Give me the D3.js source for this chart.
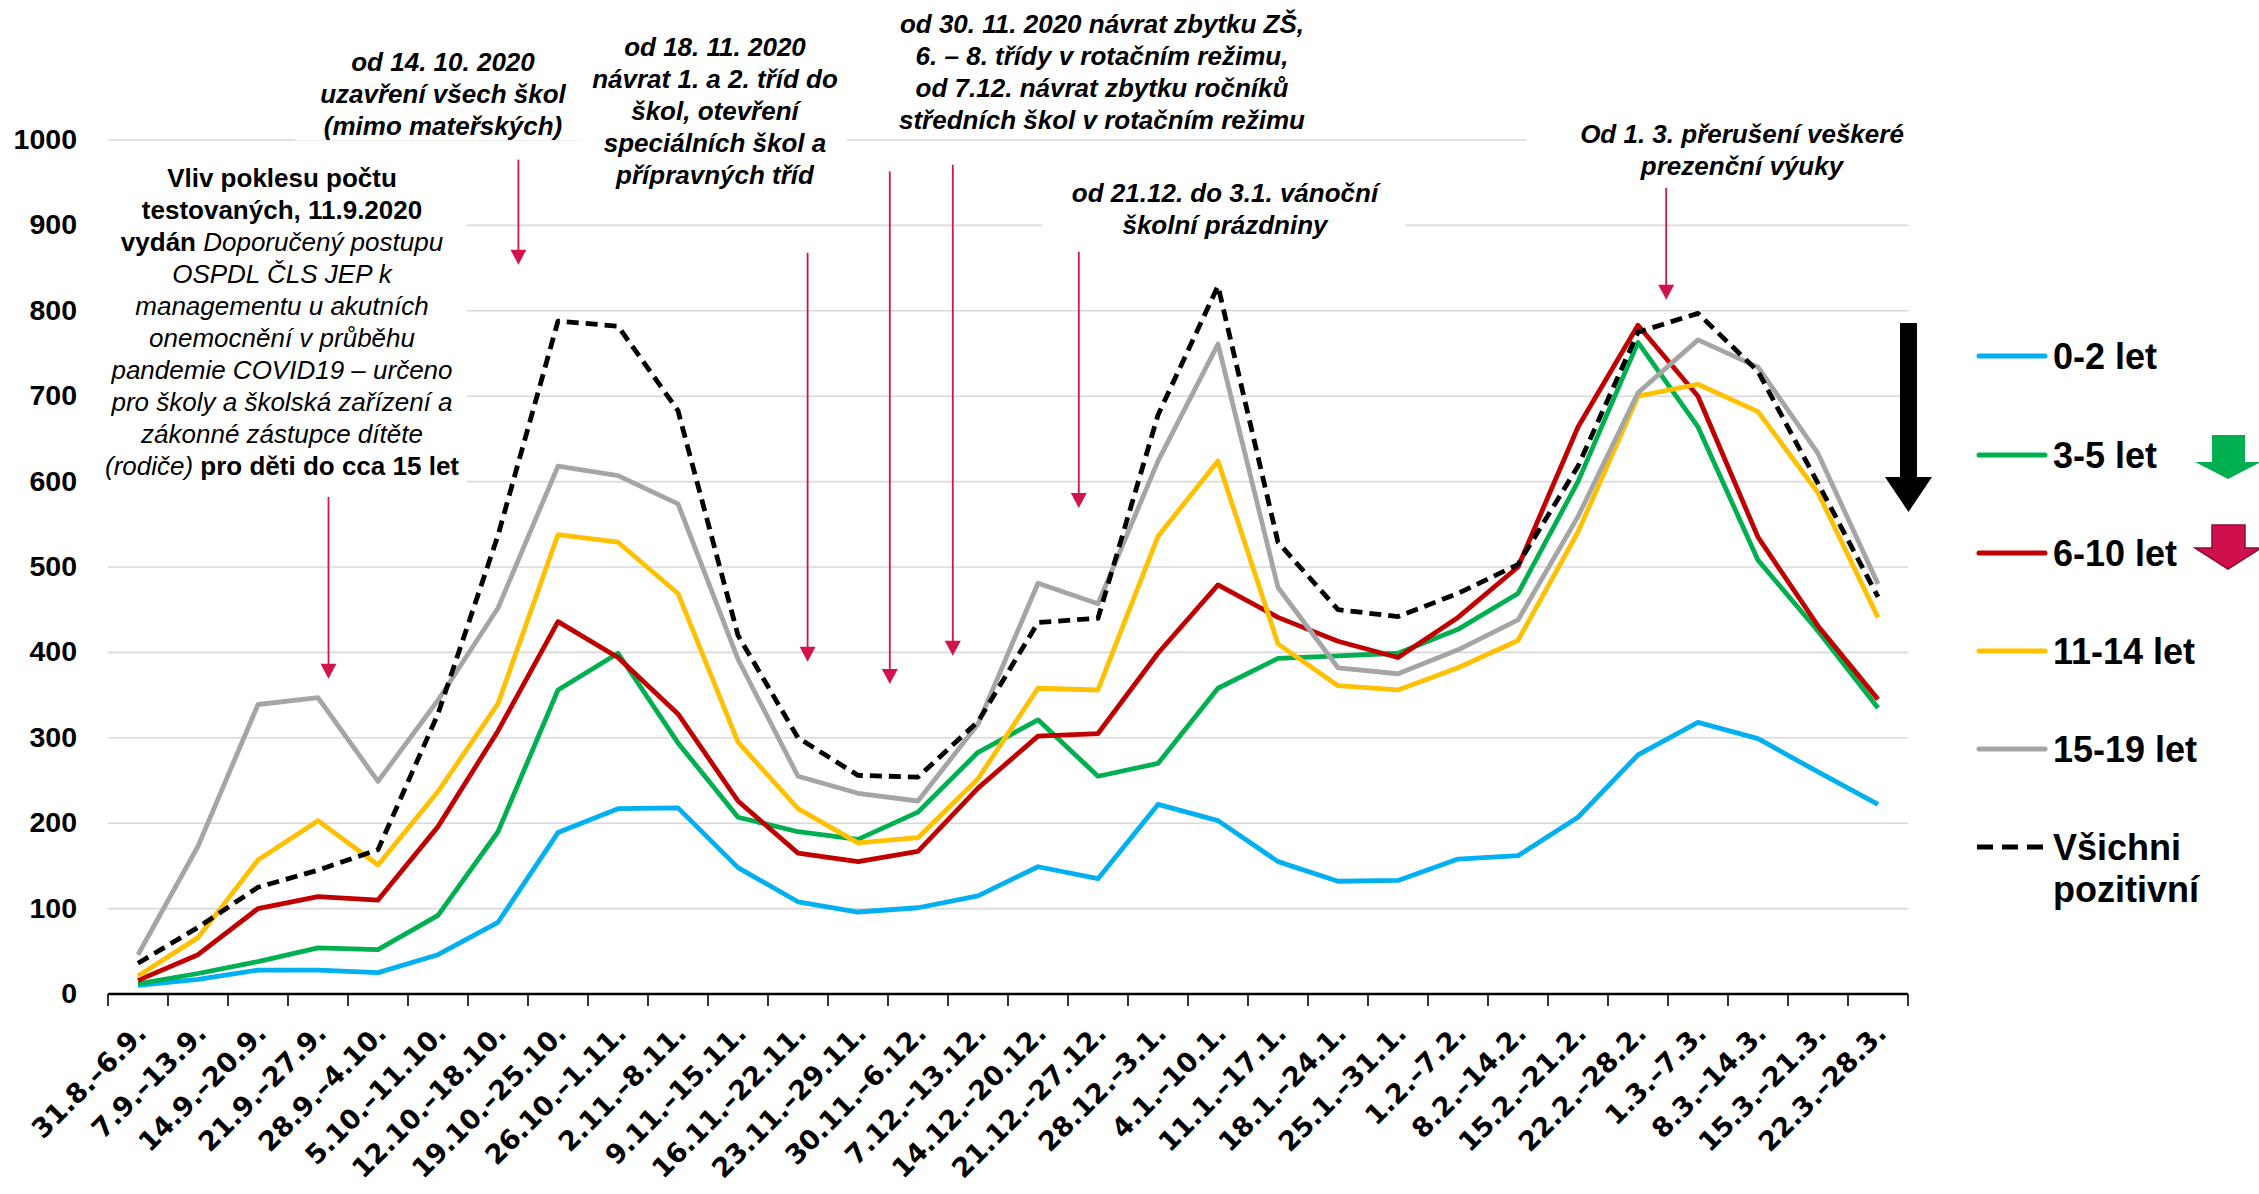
<!DOCTYPE html>
<html><head><meta charset="utf-8">
<script src="https://cdn.jsdelivr.net/npm/d3@7"></script>
<style>body{margin:0;background:#fff;} svg{display:block;}</style>
</head><body>
<svg id="c" width="2259" height="1194"></svg>
<script>
const categories = ["31.8.–6.9.","7.9.–13.9.","14.9.–20.9.","21.9.–27.9.","28.9.–4.10.","5.10.–11.10.","12.10.–18.10.","19.10.–25.10.","26.10.–1.11.","2.11.–8.11.","9.11.–15.11.","16.11.–22.11.","23.11.–29.11.","30.11.–6.12.","7.12.–13.12.","14.12.–20.12.","21.12.–27.12.","28.12.–3.1.","4.1.–10.1.","11.1.–17.1.","18.1.–24.1.","25.1.–31.1.","1.2.–7.2.","8.2.–14.2.","15.2.–21.2.","22.2.–28.2.","1.3.–7.3.","8.3.–14.3.","15.3.–21.3.","22.3.–28.3."];
const seriesNames = ["0-2 let","3-5 let","6-10 let","11-14 let","15-19 let","Všichni pozitivní"];
const age0_2   = [10,17,28,28,25,46,84,189,217,218,148,108,96,101,115,149,135,222,203,155,132,133,158,162,207,280,318,299,260,222];
const age3_5   = [12,24,38,54,52,92,190,356,399,294,207,190,181,213,283,321,255,270,358,393,396,399,427,469,600,763,664,508,425,335];
const age6_10  = [16,46,100,114,110,196,308,436,394,328,226,165,155,167,241,302,305,399,479,441,413,394,441,500,664,783,700,535,431,345];
const age11_14 = [21,66,157,203,151,237,340,538,529,469,295,217,177,183,252,358,356,536,624,410,361,356,382,414,541,700,714,682,587,441];
const age15_19 = [46,173,339,347,249,344,452,618,607,574,392,255,235,226,316,481,457,624,761,476,382,375,403,438,559,704,766,734,633,480];
const allPositive = [36,78,125,145,169,328,537,788,782,683,420,300,256,254,319,435,440,678,829,529,450,442,469,503,618,775,797,729,598,465];
const yTicks = [0,100,200,300,400,500,600,700,800,900,1000];

const colors = ["#00B0F0","#00B050","#C00000","#FFC000","#A5A5A5","#000000"];
const seriesData = [age0_2, age3_5, age6_10, age11_14, age15_19, allPositive];

const svg = d3.select("#c");
const x = d3.scaleBand().domain(categories).range([108,1908]);
const y = d3.scaleLinear().domain([0,1000]).range([994,140]);
const cx = c => x(c) + x.bandwidth()/2;
const xi = i => x(categories[0]) + x.bandwidth()*(i+0.5);
const FONT = "'Liberation Sans', Arial, sans-serif";

// gridlines
svg.append("g").selectAll("line").data(yTicks.filter(t=>t>0)).join("line")
  .attr("x1",108).attr("x2",1908).attr("y1",d=>y(d)).attr("y2",d=>y(d))
  .attr("stroke","#d9d9d9").attr("stroke-width",1.6);

// white annotation boxes
const boxes = [
  [88,467,148,490],[295,582,35,140.5],[582,847,20,200],[850,1350,0,135],[1042,1405,170,245],[1527,1935,105,190]
];
svg.append("g").selectAll("rect").data(boxes).join("rect")
  .attr("x",d=>d[0]).attr("width",d=>d[1]-d[0]).attr("y",d=>d[2]).attr("height",d=>d[3]-d[2])
  .attr("fill","#fff");

// y labels
svg.append("g").selectAll("text").data(yTicks).join("text")
  .attr("x",77).attr("y",d=>y(d)+9).attr("text-anchor","end")
  .attr("font-family",FONT).attr("font-weight","bold").attr("font-size",28.5).attr("fill","#000")
  .text(d=>d);

// x axis
svg.append("line").attr("x1",108).attr("x2",1908).attr("y1",y(0)).attr("y2",y(0))
  .attr("stroke","#000").attr("stroke-width",2.5);
const tickXs = categories.map(c=>x(c)).concat([x(categories[categories.length-1])+x.bandwidth()]);
svg.append("g").selectAll("line").data(tickXs).join("line")
  .attr("x1",d=>d).attr("x2",d=>d).attr("y1",y(0)).attr("y2",y(0)+12)
  .attr("stroke","#000").attr("stroke-width",1.6);
svg.append("g").selectAll("text").data(categories).join("text")
  .attr("transform",d=>`translate(${cx(d)+10},${y(0)+41}) rotate(-45)`)
  .attr("text-anchor","end")
  .attr("font-family","'DejaVu Sans', Verdana, sans-serif").attr("font-weight","bold").attr("font-size",27)
  .text(d=>d);

// series
const line = d3.line().x((d,i)=>cx(categories[i])).y(d=>y(d));
seriesData.forEach((s,k)=>{
  const p = svg.append("path").attr("d",line(s)).attr("fill","none")
    .attr("stroke",colors[k]).attr("stroke-width",4.8).attr("stroke-linejoin","round");
  if(k===5) p.attr("stroke-dasharray","12,7");
});

// red annotation arrows: [index, fromValue, tipValue]
const arrows = [[3.175,582,369],[6.34,977,854],[11.16,868,389],[12.53,963,363],[13.58,971,396],[15.68,869,569],[25.47,944,813]];
const ag = svg.append("g");
arrows.forEach(a=>{
  const ax = xi(a[0]), y1 = y(a[1]), yt = y(a[2]);
  ag.append("line").attr("x1",ax).attr("x2",ax).attr("y1",y1).attr("y2",yt-12)
    .attr("stroke","#d2144c").attr("stroke-width",1.8);
  ag.append("path").attr("d",`M${ax-8},${yt-15}L${ax+8},${yt-15}L${ax},${yt}Z`).attr("fill","#d2144c");
});

// annotation texts
function ann(cxp, baseline, lines){
  const t = svg.append("text").attr("text-anchor","middle").attr("font-family",FONT).attr("font-size",26).attr("fill","#000");
  lines.forEach((ln,i)=>{
    const parts = Array.isArray(ln) ? ln : [[ln,"bi"]];
    parts.forEach((p,j)=>{
      const ts = t.append("tspan").text(p[0]);
      if(j===0) ts.attr("x",cxp).attr("y",baseline+i*32);
      ts.attr("font-weight",p[1].includes("b")?"bold":"normal")
        .attr("font-style",p[1].includes("i")?"italic":"normal");
    });
  });
}
ann(443,71,["od 14. 10. 2020","uzavření všech škol","(mimo mateřských)"]);
ann(715,56,["od 18. 11. 2020","návrat 1. a 2. tříd do","škol, otevření","speciálních škol a","přípravných tříd"]);
ann(1102,33,["od 30. 11. 2020 návrat zbytku ZŠ,","6. – 8. třídy v rotačním režimu,","od 7.12. návrat zbytku ročníků","středních škol v rotačním režimu"]);
ann(1225,202,["od 21.12. do 3.1. vánoční","školní prázdniny"]);
ann(1742,143,["Od 1. 3. přerušení veškeré","prezenční výuky"]);
ann(282,187,[
  [["Vliv poklesu počtu","b"]],
  [["testovaných, 11.9.2020","b"]],
  [["vydán ","b"],["Doporučený postupu","i"]],
  [["OSPDL ČLS JEP k","i"]],
  [["managementu u akutních","i"]],
  [["onemocnění v průběhu","i"]],
  [["pandemie COVID19 – určeno","i"]],
  [["pro školy a školská zařízení a","i"]],
  [["zákonné zástupce dítěte","i"]],
  [["(rodiče)","i"],[" pro děti do cca 15 let","b"]]
]);

// big black arrow
svg.append("path").attr("d","M1900,323L1917,323L1917,477L1932,477L1908.5,512L1885,477L1900,477Z").attr("fill","#000");

// legend
const legY = [356,455,553,651,749,847];
const lg = svg.append("g");
seriesNames.forEach((n,k)=>{
  const l = lg.append("line").attr("x1",1979).attr("x2",2045).attr("y1",legY[k]).attr("y2",legY[k])
    .attr("stroke",colors[k]).attr("stroke-width",5);
  if(k===5) l.attr("stroke-dasharray","16,9").attr("x1",1977).attr("x2",2043);
  else l.attr("stroke-linecap","round");
  const t = lg.append("text").attr("x",2053).attr("y",legY[k]+12.5)
    .attr("font-family",FONT).attr("font-weight","bold").attr("font-size",36).attr("fill","#000");
  if(k===5){
    t.append("tspan").attr("x",2053).text("Všichni");
    t.append("tspan").attr("x",2053).attr("dy",42).text("pozitivní");
  } else t.text(n);
});
// green and red trend arrows
lg.append("path").attr("d","M2212,435L2245,435L2245,462L2261,462L2228,479L2195,462L2212,462Z").attr("fill","#00B050");
lg.append("path").attr("d","M2212,525L2245,525L2245,548L2261,548L2228,569L2195,548L2212,548Z")
  .attr("fill","#D0104C").attr("stroke","#8e0b33").attr("stroke-width",1.5);
</script>
</body></html>
